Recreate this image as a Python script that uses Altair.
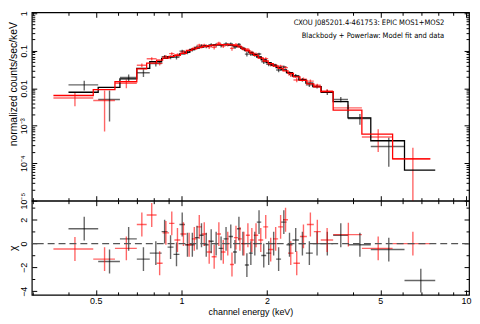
import altair as alt
import pandas as pd

TITLE1 = "CXOU J085201.4-461753: EPIC MOS1+MOS2"
TITLE2 = "Blackbody + Powerlaw: Model fit and data"
X_TITLE = "channel energy (keV)"
Y_TITLE_TOP = "normalized counts/sec/keV"
Y_TITLE_BOT = "χ"

x_major = [0.5, 1, 2, 5, 10]
x_minor = [0.3, 0.4, 0.6, 0.7, 0.8, 0.9, 3, 4, 6, 7, 8, 9]
y_major_top = [1e-5, 1e-4, 1e-3, 0.01, 0.1, 1]
y_minor_top = [2e-5, 3e-5, 4e-5, 5e-5, 6e-5, 7e-5, 8e-5, 9e-5,
               2e-4, 3e-4, 4e-4, 5e-4, 6e-4, 7e-4, 8e-4, 9e-4,
               2e-3, 3e-3, 4e-3, 5e-3, 6e-3, 7e-3, 8e-3, 9e-3,
               0.02, 0.03, 0.04, 0.05, 0.06, 0.07, 0.08, 0.09,
               0.2, 0.3, 0.4, 0.5, 0.6, 0.7, 0.8, 0.9]
y_major_bot = [-4, -2, 0, 2]
y_minor_bot = [-3, -1, 1, 3]

# MOS1 (black): bin edges (keV), data, errors, model, residuals
m1_edges = [0.401, 0.510, 0.608, 0.697, 0.774, 0.852, 0.894, 0.938, 0.984, 1.029,
            1.071, 1.114, 1.155, 1.198, 1.247, 1.298, 1.351, 1.406, 1.464, 1.518,
            1.567, 1.618, 1.671, 1.726, 1.782, 1.840, 1.908, 1.986, 2.067, 2.152,
            2.240, 2.340, 2.456, 2.587, 2.737, 2.895, 3.099, 3.414, 3.849, 4.629,
            6.081, 7.798]
m1_model = [0.0078, 0.0105, 0.0177, 0.0337, 0.0508, 0.0623, 0.069, 0.0743, 0.0829, 0.0916,
            0.108, 0.118, 0.125, 0.132, 0.139, 0.143, 0.145, 0.145, 0.142, 0.136,
            0.129, 0.115, 0.101, 0.090, 0.0782, 0.068, 0.057, 0.0479, 0.0414, 0.0357,
            0.0309, 0.0259, 0.0209, 0.0167, 0.0136, 0.0111, 0.0078, 0.0044, 0.00161, 0.000397,
            0.000065]
m1_rate = [0.0123, 0.0050, 0.0193, 0.0259, 0.0452, 0.0698, 0.0667, 0.0669, 0.0975, 0.0906,
           0.1068, 0.1245, 0.1347, 0.1306, 0.1421, 0.143, 0.1386, 0.1514, 0.1514, 0.1255,
           0.1468, 0.115, 0.0810, 0.0821, 0.0782, 0.0815, 0.0507, 0.0437, 0.0414, 0.0306,
           0.0370, 0.0256, 0.0216, 0.0167, 0.0123, 0.0111, 0.0078, 0.0050, 0.00156, 0.00028,
           0.000002]
m1_err = [0.0036, 0.0037, 0.004, 0.006, 0.007, 0.0075, 0.0076, 0.0082, 0.0091, 0.010,
          0.0119, 0.013, 0.0138, 0.0145, 0.0153, 0.0157, 0.016, 0.016, 0.0156, 0.015,
          0.0142, 0.0127, 0.0111, 0.0099, 0.0086, 0.0075, 0.0063, 0.0053, 0.0046, 0.0039,
          0.0034, 0.0029, 0.0023, 0.0019, 0.0016, 0.0013, 0.0012, 0.0008, 0.0005, 0.0002,
          0.000002]
m1_chi = [1.25, -1.5, 0.4, -1.3, -0.8, 1.0, -0.3, -0.9, 1.6, -0.1,
          -0.1, 0.5, 0.7, -0.1, 0.2, 0.0, -0.4, 0.4, 0.6, -0.7,
          1.25, 0.0, -1.8, -0.8, 0.0, 1.8, -1.0, -0.8, 0.0, -1.3,
          1.8, -0.1, 0.3, 0.0, -0.8, 0.0, 0.0, 0.7, -0.1, -0.5,
          -3.1]

# MOS2 (red)
m2_edges = [0.355, 0.490, 0.584, 0.697, 0.755, 0.818, 0.859, 0.905, 0.945, 0.992,
            1.041, 1.088, 1.132, 1.179, 1.227, 1.277, 1.330, 1.378, 1.429, 1.481,
            1.530, 1.580, 1.631, 1.685, 1.740, 1.796, 1.862, 1.939, 2.018, 2.101,
            2.187, 2.276, 2.369, 2.476, 2.609, 2.760, 2.919, 3.088, 3.414, 4.307,
            5.523, 7.492]
m2_model = [0.0064, 0.0092, 0.0149, 0.033, 0.047, 0.056, 0.0634, 0.0704, 0.0755, 0.0849,
            0.102, 0.1117, 0.122, 0.129, 0.137, 0.141, 0.145, 0.145, 0.145, 0.143,
            0.137, 0.126, 0.1117, 0.100, 0.0869, 0.0755, 0.0634, 0.0532, 0.0452, 0.039,
            0.0337, 0.0291, 0.0249, 0.0202, 0.0163, 0.0131, 0.0108, 0.0081, 0.0026, 0.000598,
            0.000131]
m2_rate = [0.0055, 0.0047, 0.0135, 0.041, 0.061, 0.046, 0.0697, 0.0835, 0.078, 0.0923,
           0.1009, 0.1166, 0.1408, 0.1404, 0.1264, 0.124, 0.1578, 0.1338, 0.145, 0.1155,
           0.1446, 0.1316, 0.1117, 0.1077, 0.0898, 0.0813, 0.0655, 0.0615, 0.0427, 0.0407,
           0.0389, 0.0355, 0.0227, 0.0166, 0.0174, 0.0155, 0.012, 0.0084, 0.0030, 0.0005,
           0.000131]
m2_err = [0.0022, 0.0040, 0.0035, 0.005, 0.006, 0.0058, 0.0070, 0.0077, 0.0083, 0.0093,
          0.0112, 0.0123, 0.0134, 0.0142, 0.0151, 0.0155, 0.016, 0.016, 0.016, 0.0157,
          0.0151, 0.0139, 0.0123, 0.011, 0.0096, 0.0083, 0.0070, 0.0059, 0.0050, 0.0043,
          0.0037, 0.0032, 0.0027, 0.0022, 0.0018, 0.0015, 0.0012, 0.0011, 0.0006, 0.0003,
          0.000128]
m2_chi = [-0.45, -1.3, -0.4, 1.6, 2.4, -1.65, 0.9, 1.7, 0.3, 0.8,
          -0.1, 0.4, 1.4, 0.8, -0.7, -1.1, 0.8, -0.7, 0.0, -1.75,
          0.5, 0.4, 0.0, 0.7, 0.3, 0.7, 0.3, 1.4, -0.5, 0.4,
          1.4, 2.0, -0.8, -1.65, 0.6, 1.6, 1.0, 0.3, 0.75, -0.4,
          0.0]


def bins(name, edges, rate, err, model, chi):
    d = pd.DataFrame({"lo": edges[:-1], "hi": edges[1:], "rate": rate, "err": err,
                      "model": model, "chi": chi})
    d["inst"] = name
    d["mid"] = (d["lo"] + d["hi"]) / 2
    d["ylo"] = (d["rate"] - d["err"]).clip(lower=1e-7)
    d["yhi"] = d["rate"] + d["err"]
    d["clo"] = d["chi"] - 1
    d["chigh"] = d["chi"] + 1
    return d


def steps(name, edges, model):
    return pd.DataFrame({"e": edges, "m": model + [model[-1]], "inst": name})


df = pd.concat([bins("MOS1", m1_edges, m1_rate, m1_err, m1_model, m1_chi),
                bins("MOS2", m2_edges, m2_rate, m2_err, m2_model, m2_chi)], ignore_index=True)
sdf = pd.concat([steps("MOS1", m1_edges, m1_model), steps("MOS2", m2_edges, m2_model)],
                ignore_index=True)

FONT = "Liberation Sans"
NARROW = "DejaVu Sans Condensed, Liberation Sans Narrow, sans-serif"
W, H_TOP, H_BOT = 441, 190, 95

xs = alt.Scale(type="log", domain=[0.298, 10.25], nice=False)
ys_top = alt.Scale(type="log", domain=[1e-5, 1.06], nice=False)
ys_bot = alt.Scale(domain=[-4.3, 3.6], nice=False, zero=False)
color = alt.Color("inst:N", scale=alt.Scale(domain=["MOS1", "MOS2"], range=["#000000", "#ff0000"]),
                  legend=None)


def tick_axis(orient, values, size, **kw):
    base = dict(orient=orient, values=values, tickSize=size, offset=-size, domain=False,
                grid=False, labels=False, ticks=True, tickColor="#000", tickWidth=1,
                title=None, labelFont=FONT, labelFontSize=9, labelColor="#000",
                labelOverlap=False, labelFlush=False)
    base.update(kw)
    return alt.Axis(**base)


ylab_expr = ("datum.value > 0.009 ? format(datum.value, '~g') : "
             "(datum.value > 0.0009 ? '10⁻³' : (datum.value > 0.00009 ? '10⁻⁴' : '10⁻⁵'))")

rule_style = dict(clip=True, strokeWidth=1.4, opacity=0.6)

# ---- top panel ----
top_h = alt.Chart(df).mark_rule(**rule_style).encode(
    x=alt.X("lo:Q", scale=xs, axis=tick_axis("bottom", x_major, 5)),
    x2="hi:Q",
    y=alt.Y("rate:Q", scale=ys_top,
            axis=tick_axis("left", y_major_top, 5, labels=True, labelAngle=-90, labelPadding=3,
                           labelExpr=ylab_expr, labelFlush=True, title=Y_TITLE_TOP,
                           titleFont=FONT, titleFontSize=10.5, titleFontWeight="normal",
                           titlePadding=1, titleY=72, titleColor="#000")),
    color=color)
top_v = alt.Chart(df).mark_rule(**rule_style).encode(
    x=alt.X("mid:Q", scale=xs, axis=tick_axis("top", x_major, 5)),
    y=alt.Y("ylo:Q", scale=ys_top, axis=tick_axis("right", y_major_top, 5)),
    y2="yhi:Q",
    color=color)
top_n1 = alt.Chart(df).mark_point(opacity=0, clip=True).encode(
    x=alt.X("mid:Q", scale=xs, axis=tick_axis("bottom", x_minor, 3)),
    y=alt.Y("rate:Q", scale=ys_top, axis=tick_axis("left", y_minor_top, 3)))
top_n2 = alt.Chart(df).mark_point(opacity=0, clip=True).encode(
    x=alt.X("mid:Q", scale=xs, axis=tick_axis("top", x_minor, 3)),
    y=alt.Y("rate:Q", scale=ys_top, axis=tick_axis("right", y_minor_top, 3)))
top_model = alt.Chart(sdf).mark_line(interpolate="step-after", clip=True, strokeWidth=1.3).encode(
    x=alt.X("e:Q", scale=xs, axis=None),
    y=alt.Y("m:Q", scale=ys_top, axis=None),
    color=color, detail="inst:N")
t1 = alt.Chart(pd.DataFrame({"t": [TITLE1]})).mark_text(
    align="right", baseline="middle", font=NARROW, fontSize=7.6, color="#000").encode(
    x=alt.value(416), y=alt.value(11), text="t:N")
t2 = alt.Chart(pd.DataFrame({"t": [TITLE2]})).mark_text(
    align="right", baseline="middle", font=NARROW, fontSize=7.6, color="#000").encode(
    x=alt.value(416), y=alt.value(24), text="t:N")

top = alt.layer(top_h, top_v, top_n1, top_n2, top_model, t1, t2).resolve_axis(
    x="independent", y="independent").properties(width=W, height=H_TOP)

# ---- bottom panel ----
bot_h = alt.Chart(df).mark_rule(**rule_style).encode(
    x=alt.X("lo:Q", scale=xs,
            axis=tick_axis("bottom", x_major, 5, labels=True, format="~g", labelPadding=2,
                           title=X_TITLE, titleFont=FONT, titleFontSize=9,
                           titleFontWeight="normal", titlePadding=2, titleColor="#000")),
    x2="hi:Q",
    y=alt.Y("chi:Q", scale=ys_bot,
            axis=tick_axis("left", y_major_bot, 5, labels=True, labelAngle=-90, labelPadding=3,
                           format="~g", title=Y_TITLE_BOT, titleFont=FONT, titleFontSize=10.5,
                           titleFontWeight="normal", titlePadding=1, titleColor="#000")),
    color=color)
bot_v = alt.Chart(df).mark_rule(**rule_style).encode(
    x=alt.X("mid:Q", scale=xs, axis=tick_axis("top", x_major, 5)),
    y=alt.Y("clo:Q", scale=ys_bot, axis=tick_axis("right", y_major_bot, 5)),
    y2="chigh:Q",
    color=color)
bot_n1 = alt.Chart(df).mark_point(opacity=0, clip=True).encode(
    x=alt.X("mid:Q", scale=xs, axis=tick_axis("bottom", x_minor, 3)),
    y=alt.Y("chi:Q", scale=ys_bot, axis=tick_axis("left", y_minor_bot, 3)))
bot_n2 = alt.Chart(df).mark_point(opacity=0, clip=True).encode(
    x=alt.X("mid:Q", scale=xs, axis=tick_axis("top", x_minor, 3)),
    y=alt.Y("chi:Q", scale=ys_bot, axis=tick_axis("right", y_minor_bot, 3)))
zero = alt.Chart(pd.DataFrame({"z": [0]})).mark_rule(
    color="#555", strokeDash=[7, 4], strokeWidth=1.4).encode(
    y=alt.Y("z:Q", scale=ys_bot, axis=None))

bottom = alt.layer(bot_h, bot_v, bot_n1, bot_n2, zero).resolve_axis(
    x="independent", y="independent").properties(width=W, height=H_BOT)

chart = alt.vconcat(top, bottom, spacing=0, bounds="flush").properties(
    padding={"left": 0, "top": 0, "right": 0, "bottom": 0}
).configure_view(stroke="#000", strokeWidth=1.2)

chart.save("out.html", embed_options={"renderer": "svg", "actions": False})
